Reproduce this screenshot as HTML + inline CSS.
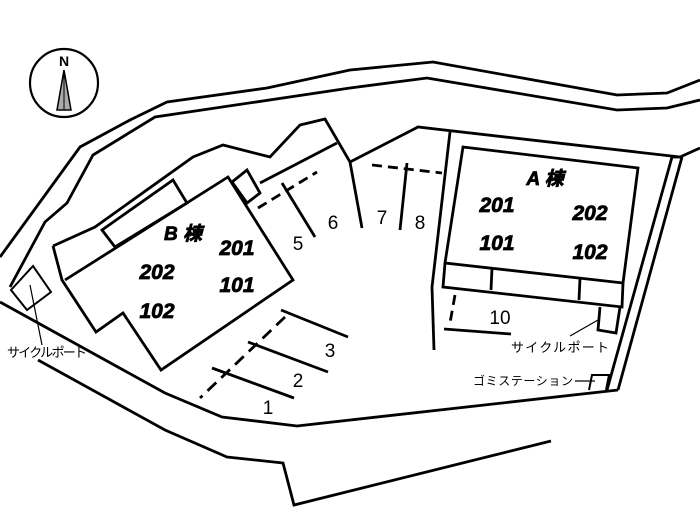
<!DOCTYPE html>
<html><head><meta charset="utf-8"><style>
html,body{margin:0;padding:0;background:#fff}
svg{display:block}
.b{font-family:"Liberation Sans",sans-serif;font-weight:bold;font-style:italic;font-size:21px;stroke:#000;stroke-width:0.8}
.n{font-family:"Liberation Sans",sans-serif;font-size:19px}
.j{font-family:"Liberation Sans","Noto Sans CJK JP",sans-serif;font-size:13px}
</style></head><body>
<svg width="700" height="519" viewBox="0 0 700 519" xmlns="http://www.w3.org/2000/svg">
<g fill="none" stroke="#000" stroke-width="2.8" stroke-linejoin="miter">
<circle cx="64" cy="83" r="34" stroke-width="2.2"/>
<polyline points="0,257 80,147 130,120 167,102 267,88 350,70 433,62 617,95 667,93 700,80"/>
<polyline points="10,287 45,222 67,203 93,155 155,117 350,88 427,78 617,110 667,108 700,100"/>
<polyline points="680,157 700,148"/>
<polyline points="53,246 95,227 193,157 223,145 270,157 300,125 325,119 350,162 362,228"/>
<polyline points="350,162 418,127 680,157"/>
<polyline points="672,157 607,390"/>
<polyline points="682,157 618,390"/>
<line x1="672" y1="157" x2="682" y2="157"/>
<polyline points="0,302 165,393 222,417 297,426 618,390"/>
<polyline points="38,360 165,430 227,457 283,463 294,505 551,441"/>
<polyline points="53,246 62,280 96,332 123,313 161,370 293,280 228,177 65,280"/>
<polygon points="102,230 173,180 187,203 115,247"/>
<polygon points="232,182 247,170 260,193 247,203"/>
<polygon points="11,290 33,266 51,292 27,310" stroke-width="2"/>
<line x1="30" y1="285" x2="42" y2="345" stroke-width="1.2"/>
<line x1="260" y1="183" x2="337" y2="143"/>
<line x1="258" y1="208" x2="317" y2="172" stroke-dasharray="10,6"/>
<line x1="282" y1="183" x2="315" y2="237"/>
<line x1="372" y1="165" x2="442" y2="173" stroke-dasharray="10,6"/>
<line x1="407" y1="163" x2="400" y2="230"/>
<polyline points="450,132 432,287 434,350"/>
<polygon points="463,147 638,168 623,283 445,263"/>
<polyline points="445,263 443,287 622,307 623,283"/>
<line x1="492" y1="268" x2="491" y2="290"/>
<line x1="580" y1="278" x2="579" y2="300"/>
<polyline points="620,307 616,333 598,330 600,307"/>
<line x1="598" y1="320" x2="570" y2="336" stroke-width="1.2"/>
<line x1="455" y1="295" x2="450" y2="323" stroke-dasharray="10,6"/>
<line x1="444" y1="329" x2="511" y2="334"/>
<polyline points="589,390 592,375 609,375 606,390" stroke-width="2"/>
<line x1="575" y1="381" x2="595" y2="381" stroke-width="1.2"/>
<line x1="281" y1="310" x2="348" y2="337"/>
<line x1="248" y1="342" x2="328" y2="372"/>
<line x1="212" y1="368" x2="294" y2="398"/>
<line x1="285" y1="317" x2="200" y2="398" stroke-dasharray="12,7"/>
</g>
<polygon points="64,70 57,110 71,110" fill="#aaa" stroke="#000" stroke-width="1.5"/>
<line x1="64" y1="70" x2="64" y2="110" stroke="#000" stroke-width="1"/>
<text x="64" y="66" text-anchor="middle" font-family="Liberation Sans,sans-serif" font-weight="bold" font-size="14">N</text>
<g class="b" text-anchor="middle">
<text x="545" y="185" font-size="19">A <tspan font-family="Noto Sans CJK JP,sans-serif">棟</tspan></text>
<text x="497" y="212">201</text><text x="590" y="220">202</text>
<text x="497" y="250">101</text><text x="590" y="259">102</text>
<text x="183" y="240" font-size="19">B <tspan font-family="Noto Sans CJK JP,sans-serif">棟</tspan></text>
<text x="237" y="255">201</text><text x="157" y="279">202</text>
<text x="237" y="292">101</text><text x="157" y="318">102</text>
</g>
<g class="n" text-anchor="middle">
<text x="298" y="250">5</text><text x="333" y="229">6</text>
<text x="382" y="224">7</text><text x="420" y="229">8</text>
<text x="500" y="324">10</text>
<text x="330" y="357">3</text><text x="298" y="387">2</text><text x="268" y="414">1</text>
</g>
<g class="j">
<text x="7" y="357" textLength="80">サイクルポート</text>
<text x="511" y="352" textLength="98">サイクルポート</text>
<text x="473" y="385" font-size="12" textLength="100">ゴミステーション</text>
</g>
</svg>
</body></html>
